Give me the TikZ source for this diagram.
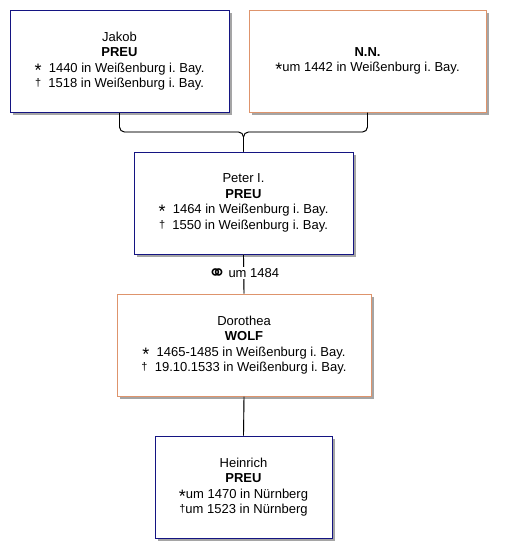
\documentclass[tikz,border=0pt]{standalone}
\usepackage{fontspec}
\setmainfont{Liberation Sans}
\newfontfamily\symfont{DejaVu Sans}
\usetikzlibrary{shadows}
\frenchspacing
\definecolor{mblue}{RGB}{20,20,130}
\definecolor{morange}{RGB}{222,148,108}
\definecolor{shgray}{RGB}{165,165,165}
\newcommand{\bsym}{\smash{\raisebox{-4pt}{\fontsize{18}{18}\selectfont *}}}
\newcommand{\dsym}{\smash{\raisebox{1.2pt}{\fontsize{11}{11}\selectfont †}}}
\begin{document}
\begin{tikzpicture}[x=1pt,y=-1pt,
  person/.style={draw, line width=1pt, fill=white, inner sep=0pt, align=center,
    minimum height=102pt, font=\fontsize{13}{15.5}\selectfont,
    drop shadow={shadow xshift=3pt, shadow yshift=-3pt, opacity=1, fill=shgray}},
  male/.style={person, draw=mblue},
  female/.style={person, draw=morange},
  conn/.style={line width=0.9pt, rounded corners=5pt},
  connsh/.style={conn, draw=shgray, shift={(1.6,1.6)}}]
\useasboundingbox (0,0) rectangle (505,558);
\fill[white] (0,0) rectangle (505,558);

\node[male, minimum width=219pt] (jakob) at (119.5,61)
  {Jakob\\\textbf{PREU}\\\bsym\ \ 1440 in Weißenburg i. Bay.\\\dsym\ \ 1518 in Weißenburg i. Bay.};
\node[female, minimum width=237pt] (nn) at (367.5,61)
  {\textbf{N.N.}\\\bsym um 1442 in Weißenburg i. Bay.};
\node[male, minimum width=219pt] (peter) at (243.5,203)
  {Peter I.\\\textbf{PREU}\\\bsym\ \ 1464 in Weißenburg i. Bay.\\\dsym\ \ 1550 in Weißenburg i. Bay.};
\node[female, minimum width=254pt] (doro) at (244,345)
  {Dorothea\\\textbf{WOLF}\\\bsym\ \ 1465-1485 in Weißenburg i. Bay.\\\dsym\ \ 19.10.1533 in Weißenburg i. Bay.};
\node[male, minimum width=177pt] (hein) at (243.5,487)
  {Heinrich\\\textbf{PREU}\\\bsym um 1470 in Nürnberg\\\dsym um 1523 in Nürnberg};

\coordinate (m) at (243.5,132);
\draw[connsh] (jakob.south) |- (m) -- (peter.north);
\draw[connsh] (nn.south) |- (m) -- (peter.north);
\draw[connsh] (peter.south) -- (doro.north);
\draw[connsh] (doro.south) -- (hein.north);
\draw[conn] (jakob.south) |- (m) -- (peter.north);
\draw[conn] (nn.south) |- (m) -- (peter.north);
\draw[conn] (peter.south) -- (doro.north);
\draw[conn] (doro.south) -- (hein.north);
\node[fill=white, inner sep=1.5pt, font=\fontsize{13}{15}\selectfont] (mar) at (243.5,273)
  {\smash{\raisebox{-3.5pt}{\symfont\fontsize{22}{22}\selectfont ⚭}}\,um 1484};
\end{tikzpicture}
\end{document}
